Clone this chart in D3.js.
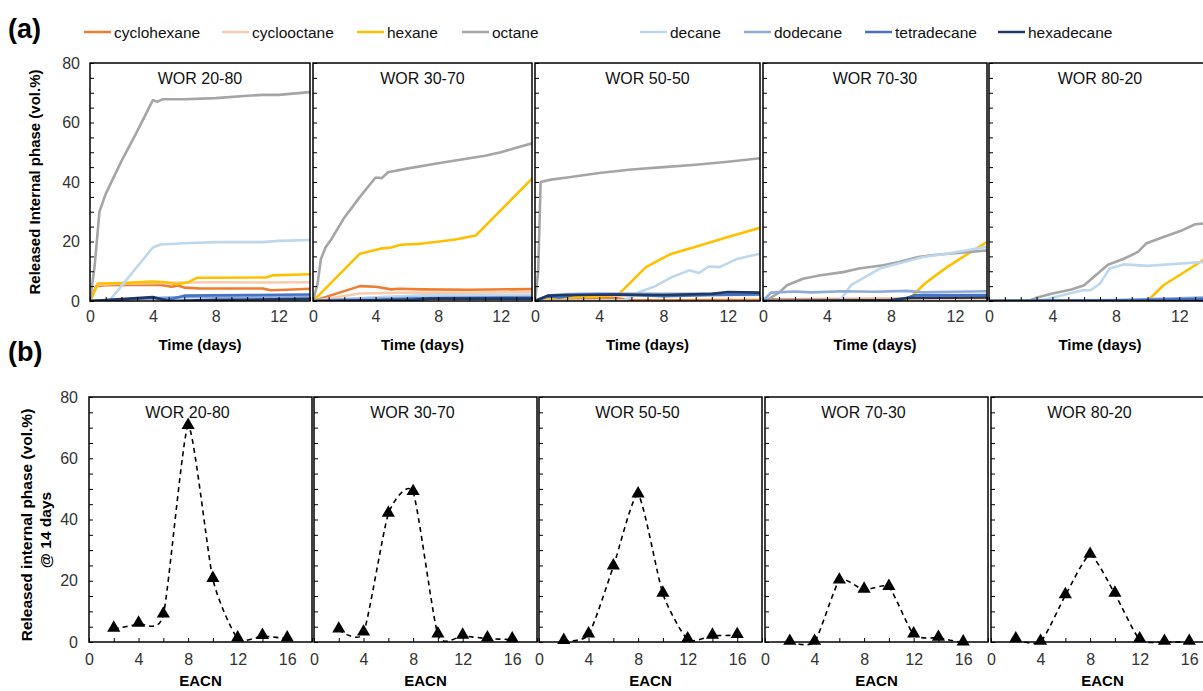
<!DOCTYPE html>
<html><head><meta charset="utf-8">
<script src="https://cdn.jsdelivr.net/npm/d3@7"></script>
<style>
html,body{margin:0;padding:0;background:#fff;}
svg{display:block;font-family:"Liberation Sans",Arial,sans-serif;}
</style></head>
<body>
<svg id="chart" width="1203" height="691"></svg>
<script>
// ---------- DATA ----------
const species = ["cyclohexane","cyclooctane","hexane","octane","decane","dodecane","tetradecane","hexadecane"];
const panelNames = ["WOR 20-80","WOR 30-70","WOR 50-50","WOR 70-30","WOR 80-20"];
const dayTicks = [0,4,8,12];
const eacnTicks = [0,4,8,12,16];
const yTicks = [0,20,40,60,80];

// time series [day, vol.%] per species (same order as `species`)
const seriesWOR2080 = [
  [[0,0],[0.4,5],[1,5.3],[4,5.5],[4.5,5.4],[5.2,4.8],[5.6,5.2],[6,4.5],[7,4.2],[8,4.2],[11,4.2],[11.5,3.6],[12.5,3.8],[14,4.1]],
  [[0,0],[0.5,5.5],[2,5.8],[4,6],[6,6.2],[8,6.3],[11,6.2],[14,6.3]],
  [[0,0],[0.5,5.9],[2,6],[4,6.5],[4.8,6.3],[5.5,5.6],[6.2,6.2],[6.8,7.8],[8,7.8],[11.2,7.9],[11.6,8.6],[14,9]],
  [[0,0],[0.3,12],[0.6,30],[1,36],[2,47],[3,57],[4,67.5],[4.3,67],[4.6,67.8],[6,67.8],[8,68.2],[10,69],[11,69.3],[12,69.3],[14,70.2]],
  [[0,0],[1.2,0],[2,5],[3,11.5],[4,18],[4.5,19],[6,19.4],[8,19.8],[11,19.8],[12,20.2],[14,20.5]],
  [[0,0],[2,0.5],[4,1],[6,1.3],[14,1.5]],
  [[0,0],[4,1],[5,0.4],[6,1.8],[10,2],[14,2.2]],
  [[0,0],[4,1.3],[5,0],[8,0.4],[14,0.7]]
];
const seriesWOR3070 = [
  [[0,0],[3,5],[4,4.8],[5,3.9],[5.5,4.1],[7,3.9],[10,3.8],[14,4]],
  [[0,0],[3,2.5],[6,2.8],[10,2.8],[14,3]],
  [[0,0],[3,15.9],[4.3,17.6],[5,18],[5.6,18.9],[7,19.3],[9,20.6],[10.4,22],[14,41.1]],
  [[0,0],[0.3,6],[0.5,14],[0.8,18],[1.2,21],[2,28],[3,35],[4,41.5],[4.4,41.3],[4.8,43.3],[6,44.5],[8,46.3],[10,48],[11,48.8],[12,50],[14,53]],
  [[0,0],[3,1],[5,1.5],[7,1.9],[14,2]],
  [[0,0],[2,0.6],[6,1],[14,1.3]],
  [[0,0],[4,0.3],[7,0.9],[14,1.1]],
  [[0,0],[4,0.2],[6.5,0.4],[7.5,0.8],[14,0.8]]
];
const seriesWOR5050 = [
  [[0,0],[1,0.8],[5,1],[6,0.2],[14,0.3]],
  [[0,0],[1,1.2],[4,1.8],[6,1.8],[14,2]],
  [[0,0],[1,1],[4,1.5],[5.2,2.2],[6.9,11.4],[8.4,15.7],[10,18.2],[12,21.5],[14,24.6]],
  [[0,0],[0.2,10],[0.35,40],[1,40.8],[2,41.5],[4,43],[6,44.2],[8,45],[10,45.8],[12,46.8],[14,48]],
  [[0,0],[5.5,0.2],[6.1,1.5],[6.5,3],[7.5,5],[8.5,8],[9.6,10.3],[10.2,9.4],[10.8,11.6],[11.5,11.4],[12.5,14],[14,15.9]],
  [[0,0],[0.8,1.8],[2,2.3],[4,2.5],[8,2.4],[14,2.5]],
  [[0,0],[0.8,1.5],[1.5,1.2],[2.5,2],[5,2.2],[8,1.6],[11,2],[14,2.2]],
  [[0,0],[0.8,1.8],[2,2],[5,2.2],[8,2],[11,2.4],[12,3],[14,2.8]]
];
const seriesWOR7030 = [
  [[0,0],[0.5,0.6],[14,0.8]],
  [[0,0],[1,0.4],[14,0.5]],
  [[0,0],[8.9,0],[9.3,1.5],[10.1,5.8],[11.5,11.4],[13,16.5],[14,19.8]],
  [[0,0],[0.3,0.5],[1,2.8],[1.5,5.3],[2.5,7.5],[3.5,8.6],[5,9.7],[6,10.9],[7.5,12],[8.5,13.1],[9.7,14.8],[10.5,15.4],[12,16.1],[14,17]],
  [[0,0],[4.8,0],[5.5,5.3],[6.4,8.1],[7.3,10.9],[9,13.4],[10,14.8],[11.5,15.9],[13,17.3],[14,18.2]],
  [[0,0],[0.5,2.8],[2,3.2],[3,2.9],[5,3.3],[7,3.1],[9,3.4],[10,2.9],[12,3.1],[14,3.3]],
  [[0,0],[8.5,0.2],[9.5,1.9],[14,2]],
  [[0,0],[8,0.3],[9,1],[14,1.2]]
];
const seriesWOR8020 = [
  [[0,0],[14,0.1]],
  [[0,0],[14,0]],
  [[0,0],[10,0],[11,5.3],[13.5,13.7],[14,15]],
  [[0,0],[2.5,0],[3,1.1],[4,2.5],[5.2,3.9],[6,5.3],[7.5,12.2],[8.5,14.2],[9.4,16.5],[9.9,19.3],[11,21.5],[12.2,23.8],[13,25.8],[14,26.2]],
  [[0,0],[3.1,0],[4,1.1],[5.9,3.6],[6.4,3.6],[7,5.8],[7.6,10.9],[8.5,12.3],[10,11.8],[13.5,13.1],[14,13.3]],
  [[0,0],[8,0.3],[14,1.2]],
  [[0,0],[9,0.2],[14,0.8]],
  [[0,0],[14,0]]
];
const timeSeries = [seriesWOR2080, seriesWOR3070, seriesWOR5050, seriesWOR7030, seriesWOR8020];

// (b) released phase at 14 days vs EACN
const eacn = [2,4,6,8,10,12,14,16];
const released2080 = [4.3,5.9,8.9,70.5,20.5,1.1,1.9,1.1];
const released3070 = [4,3,41.8,48.9,2.4,2,1.1,0.8];
const released5050 = [0.3,2.4,24.6,48.1,15.7,0.8,2,2.2];
const released7030 = [0,0,20,17,17.9,2.4,1.3,-0.2];
const released8020 = [0.8,0,15.2,28.4,15.7,0.8,0,0];
const releasedAll = [released2080, released3070, released5050, released7030, released8020];

// ---------- STYLE / LAYOUT ----------
const colors = ["#ED7D31","#F8CBAD","#FFC000","#A5A5A5","#BDD7EE","#8FAADC","#4472C4","#203864"];
const topLefts = [90,313,535,763,989], topWidths = [220,219,225,224,222];
const topY0 = 301, topY1 = 63;
const botLefts = [89,314,539,765,991], botWidth = 223;
const botY0 = 642, botY1 = 397;
const tickColor = "#333";

const svg = d3.select("#chart");
const defs = svg.append("defs");

// panel labels
svg.append("text").attr("x",8).attr("y",38).attr("font-size",27).attr("font-weight","bold").text("(a)");
svg.append("text").attr("x",8).attr("y",361).attr("font-size",27).attr("font-weight","bold").text("(b)");

// legend
const legX = [84,222,357,462,640,744,865,998];
species.forEach((s,i)=>{
  const g = svg.append("g");
  g.append("line").attr("x1",legX[i]).attr("x2",legX[i]+27).attr("y1",32).attr("y2",32)
    .attr("stroke",colors[i]).attr("stroke-width",2.5);
  g.append("text").attr("x",legX[i]+30).attr("y",38).attr("font-size",15.5).attr("fill","#111").text(s);
});

// y axis titles
svg.append("text").attr("transform","translate(40,182) rotate(-90)").attr("text-anchor","middle")
  .attr("font-size",15).attr("font-weight","bold").text("Released Internal phase (vol.%)");
svg.append("text").attr("transform","translate(32,525) rotate(-90)").attr("text-anchor","middle")
  .attr("font-size",15.5).attr("font-weight","bold").text("Released internal phase (vol.%)");
svg.append("text").attr("transform","translate(51,530) rotate(-90)").attr("text-anchor","middle")
  .attr("font-size",15.5).attr("font-weight","bold").text("@ 14 days");

// ---------- TOP ROW ----------
const yTop = d3.scaleLinear().domain([0,80]).range([topY0, topY1]);
panelNames.forEach((name,p)=>{
  const x = d3.scaleLinear().domain([0,14]).range([topLefts[p], topLefts[p]+topWidths[p]]);
  const g = svg.append("g");
  const cid = "clipT"+p;
  defs.append("clipPath").attr("id",cid).append("rect")
    .attr("x",topLefts[p]).attr("y",topY1).attr("width",topWidths[p]).attr("height",topY0-topY1);
  const line = d3.line().x(d=>x(d[0])).y(d=>yTop(d[1]));
  const lg = g.append("g").attr("clip-path",`url(#${cid})`);
  timeSeries[p].forEach((ser,i)=>{
    lg.append("path").datum(ser).attr("d",line).attr("fill","none")
      .attr("stroke",colors[i]).attr("stroke-width",2.6).attr("stroke-linejoin","round");
  });
  const ya = g.append("g").attr("transform",`translate(${topLefts[p]},0)`)
    .call(d3.axisRight(yTop).tickValues(d3.range(0,81,5)).tickSize(4).tickFormat(""));
  ya.select(".domain").remove(); ya.selectAll("line").attr("stroke","#000");
  const xa = g.append("g").attr("transform",`translate(0,${topY0})`)
    .call(d3.axisTop(x).tickValues(d3.range(0,15,1)).tickSize(4).tickFormat(""));
  xa.select(".domain").remove(); xa.selectAll("line").attr("stroke","#000");
  const xl = g.append("g").attr("transform",`translate(0,${topY0})`)
    .call(d3.axisBottom(x).tickValues(dayTicks).tickSize(0).tickPadding(10));
  xl.select(".domain").remove();
  xl.selectAll("text").attr("font-size",16).attr("fill",tickColor).attr("font-family","Liberation Sans, Arial");
  if(p===0){
    const yl = g.append("g").attr("transform",`translate(${topLefts[p]},0)`)
      .call(d3.axisLeft(yTop).tickValues(yTicks).tickSize(0).tickPadding(10));
    yl.select(".domain").remove();
    yl.selectAll("text").attr("font-size",16).attr("fill",tickColor).attr("font-family","Liberation Sans, Arial");
  }
  g.append("rect").attr("x",topLefts[p]).attr("y",topY1).attr("width",topWidths[p]).attr("height",topY0-topY1)
    .attr("fill","none").attr("stroke","#000").attr("stroke-width",1.5);
  g.append("text").attr("x",topLefts[p]+topWidths[p]/2).attr("y",84).attr("text-anchor","middle")
    .attr("font-size",16).attr("fill","#111").text(name);
  g.append("text").attr("x",topLefts[p]+topWidths[p]/2).attr("y",345).attr("text-anchor","middle")
    .attr("font-size",15).attr("font-weight","bold").attr("dy","0.35em").text("Time (days)");
});

// ---------- BOTTOM ROW ----------
const yBot = d3.scaleLinear().domain([0,80]).range([botY0, botY1]);
const tri = d3.symbol().type(d3.symbolTriangle).size(75);
panelNames.forEach((name,p)=>{
  const x = d3.scaleLinear().domain([0,18]).range([botLefts[p], botLefts[p]+botWidth]);
  const g = svg.append("g");
  const pts = eacn.map((e,i)=>[e, releasedAll[p][i]]);
  const line = d3.line().x(d=>x(d[0])).y(d=>yBot(d[1])).curve(d3.curveCardinal.tension(0.4));
  const ya = g.append("g").attr("transform",`translate(${botLefts[p]},0)`)
    .call(d3.axisRight(yBot).tickValues(d3.range(0,81,5)).tickSize(4).tickFormat(""));
  ya.select(".domain").remove(); ya.selectAll("line").attr("stroke","#000");
  const xa = g.append("g").attr("transform",`translate(0,${botY0})`)
    .call(d3.axisTop(x).tickValues(d3.range(0,19,2)).tickSize(4).tickFormat(""));
  xa.select(".domain").remove(); xa.selectAll("line").attr("stroke","#000");
  g.append("path").datum(pts).attr("d",line).attr("fill","none").attr("stroke","#000")
    .attr("stroke-width",1.6).attr("stroke-dasharray","5,4");
  g.selectAll(".m").data(pts).enter().append("path")
    .attr("transform",d=>`translate(${x(d[0])},${yBot(d[1])-1})`).attr("d",tri).attr("fill","#000");
  const xl = g.append("g").attr("transform",`translate(0,${botY0})`)
    .call(d3.axisBottom(x).tickValues(eacnTicks).tickSize(0).tickPadding(12));
  xl.select(".domain").remove();
  xl.selectAll("text").attr("font-size",16).attr("fill",tickColor).attr("font-family","Liberation Sans, Arial");
  if(p===0){
    const yl = g.append("g").attr("transform",`translate(${botLefts[p]},0)`)
      .call(d3.axisLeft(yBot).tickValues(yTicks).tickSize(0).tickPadding(11));
    yl.select(".domain").remove();
    yl.selectAll("text").attr("font-size",16).attr("fill",tickColor).attr("font-family","Liberation Sans, Arial");
  }
  g.append("rect").attr("x",botLefts[p]).attr("y",botY1).attr("width",botWidth).attr("height",botY0-botY1)
    .attr("fill","none").attr("stroke","#000").attr("stroke-width",1.5);
  g.append("text").attr("x",botLefts[p]+botWidth/2-13).attr("y",418).attr("text-anchor","middle")
    .attr("font-size",16).attr("fill","#111").text(name);
  g.append("text").attr("x",botLefts[p]+botWidth/2).attr("y",681).attr("text-anchor","middle")
    .attr("font-size",15).attr("font-weight","bold").attr("dy","0.35em").text("EACN");
});
</script>
</body></html>
